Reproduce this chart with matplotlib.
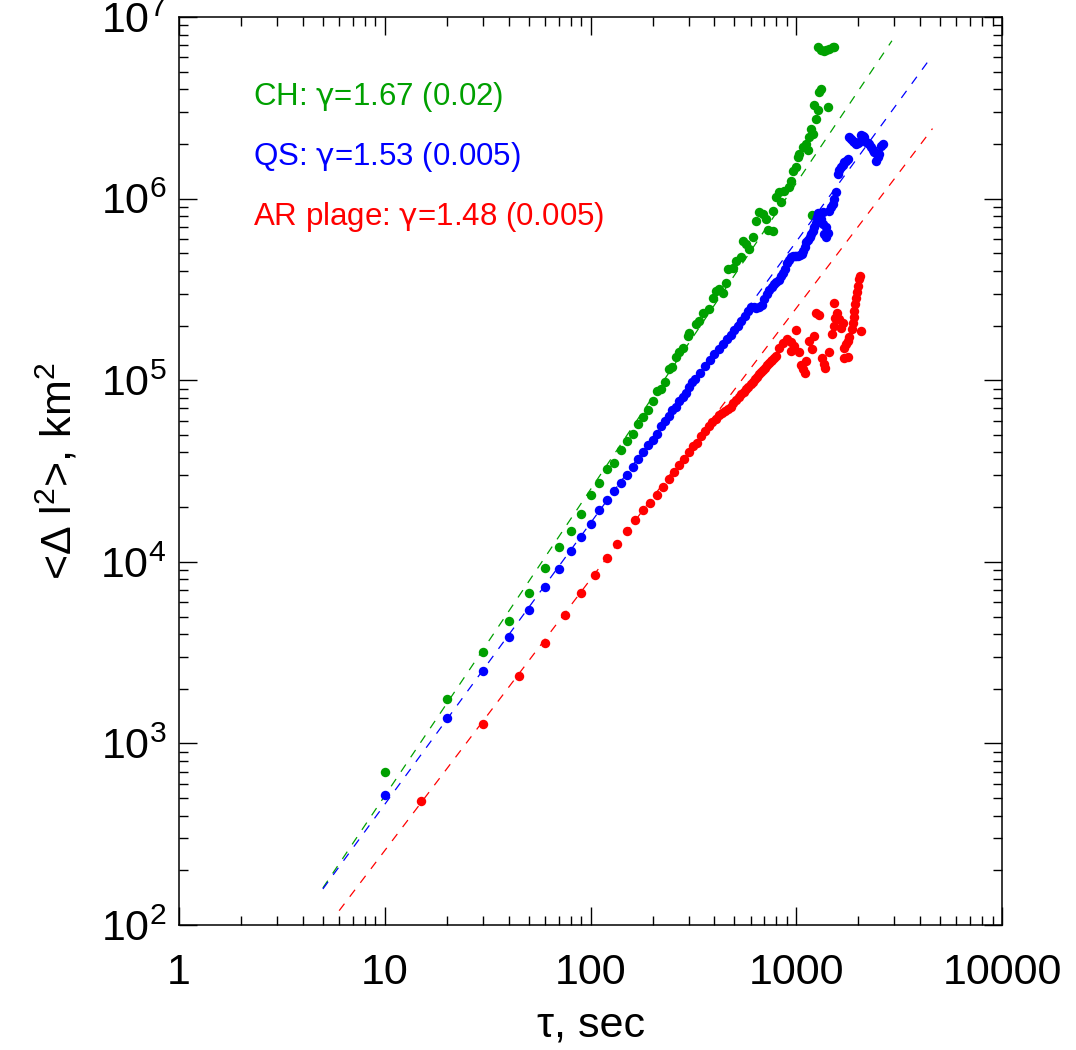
import matplotlib
matplotlib.use("Agg")
import matplotlib.pyplot as plt
from matplotlib.ticker import FixedLocator, LogLocator, NullFormatter

plt.rcParams["font.family"] = ["Liberation Sans", "DejaVu Sans"]
plt.rcParams["mathtext.fontset"] = "custom"
plt.rcParams["mathtext.rm"] = "Liberation Sans"
plt.rcParams["mathtext.sf"] = "DejaVu Sans"
plt.rcParams["mathtext.default"] = "regular"

# coronal hole (green), 10 s cadence
ch_tau = [10, 20, 30, 40, 50, 60, 70, 80, 90, 100, 110, 120, 130, 140, 150, 160, 170, 180,
          190, 200, 210, 220, 230, 240, 250, 260, 270, 280, 297, 302, 326, 338, 351, 378,
          392, 408, 423, 439, 456, 464, 491, 510, 539, 549, 570, 591, 614, 637, 661, 686,
          712, 726, 767, 767, 797, 827, 843, 875, 925, 943, 960, 996, 1015, 1035, 1074,
          1114, 1135, 1156, 1178, 1190, 1200, 1223, 1246, 1269, 1294, 1317, 1420,
          1269, 1317, 1360, 1394, 1446, 1501, 1529]
ch_msd = [700, 1750, 3180, 4720, 6740, 9270, 12050, 14800, 18370, 23200, 27100, 32400,
          35200, 41200, 46000, 50500, 57400, 62500, 68200, 77200, 87700, 90000, 97500,
          116000, 118000, 134600, 143000, 150500, 175000, 182500, 203000, 211800, 235500,
          245600, 285000, 310200, 317000, 303500, 345000, 408500, 417500, 454300, 474000,
          586000, 562000, 527500, 611400, 755600, 840000, 823000, 772000, 676000, 665500,
          858500, 1016000, 1084000, 954000, 1107000, 1154000, 1256000, 1428000, 1489000,
          1691000, 1766000, 1921000, 2004000, 1842000, 2183000, 2425000, 817000, 2277000,
          3264000, 2754000, 3063000, 3866000, 4033000, 3193000,
          6850000, 6580000, 6500000, 6600000, 6700000, 6800000, 6850000]

# quiet sun (blue), 10 s cadence
qs_tau = [10, 20, 30, 40, 50, 60, 70, 80, 90, 100, 110, 120, 130, 140, 150, 160, 170, 180,
          190, 200, 210, 220, 230, 240, 250, 260, 270, 280, 290, 300, 310,
          320, 340, 360, 380, 400, 420, 440, 460, 480, 500, 520, 540, 560, 580, 600, 620,
          640, 660, 680, 700, 720, 740, 760, 780, 800, 820, 840, 860, 880, 900, 920, 940,
          960, 980, 1000, 1020, 1040, 1060, 1080, 1100, 1120, 1140, 1160, 1180, 1200, 1220,
          1240, 1260, 1280, 1317, 1342, 1342, 1370, 1394, 1420, 1394, 1446, 1470, 1501,
          1529, 1558, 1587, 1620, 1648, 1680, 1710, 1740, 1775, 1809, 1844, 1877, 1910,
          1950, 1985, 2022, 2060, 2100, 2138, 2179, 2220, 2262, 2305, 2347, 2390, 2437,
          2483, 2529, 2577, 2626]
qs_msd = [522, 1375, 2500, 3880, 5460, 7310, 9120, 11450, 13700, 16200, 19300, 21900,
          24600, 27100, 30100, 33100, 36900, 40100, 44100, 47000, 50700, 56100, 59800,
          63700, 68200, 71100, 76500, 80500, 85100, 91500, 97500,
          102000, 110000, 120000, 129000, 138600, 148000, 157500, 168000, 178000, 189000,
          200000, 211000, 225000, 240000, 254000, 253000, 251000, 253000, 260000, 279000,
          298000, 312000, 326000, 337000, 347000, 358000, 373000, 388000, 410000, 442000,
          460000, 475000, 484000, 484000, 484000, 486000, 491000, 497000, 512000, 540000,
          575000, 595000, 615000, 640000, 665000, 700000, 735000, 790000, 830000, 772000,
          724600, 840000, 640000, 700000, 650000, 611400, 858500, 900000, 935000, 1000000,
          1084000, 1368000, 1430000, 1489000, 1540000, 1588000, 1620000, 1656000, 2183000,
          2136000, 2089000, 2050000, 2004000, 2030000, 2046000, 2230000, 2200000, 2183000,
          2046000, 2020000, 2004000, 1921000, 1842000, 1800000, 1620000, 1690000, 1766000,
          1960000, 2000000]

# active region plage (red), 15 s cadence
ar_tau = [15, 30, 45, 60, 75, 90, 105, 120, 135, 150, 165, 180, 195, 210, 225, 240, 255,
          270, 285, 300, 315, 330, 345, 360, 375, 390, 405, 420, 435, 450, 465, 480, 495,
          510, 525, 540, 555, 570, 585, 600, 615, 630, 645, 660, 675, 690, 705, 720, 735,
          750, 765, 780, 795,
          827, 865, 898, 943, 977, 943, 996, 1026, 1114, 1054, 1074, 1102, 1156, 1191,
          1223, 1246, 1294, 1333, 1358, 1378, 1435, 1490, 1529, 1529, 1546, 1577, 1617,
          1648, 1679, 1710, 1742, 1775, 1808, 1710, 1775, 1862, 1877, 1898, 1913, 1936,
          1950, 1972, 1994, 2022, 2037, 2060]
ar_msd = [484, 1274, 2345, 3560, 5080, 6700, 8500, 10500, 12600, 14800, 17100, 19300,
          21200, 23400, 25700, 28500, 31400, 34200, 36700, 40200, 43600, 45400, 49400,
          52200, 55700, 58600, 61100, 64600, 66000, 67500, 69200, 71500, 74800, 78000,
          81000, 83500, 86200, 89000, 91700, 95000, 98200, 101500, 104500, 107600, 111000,
          114000, 117500, 121000, 124000, 127000, 130000, 133000, 135500,
          151000, 160700, 168000, 163000, 154000, 144500, 188000, 143500, 127400, 121000,
          116000, 109700, 164000, 148000, 175000, 235500, 227500, 133000, 123000, 117000,
          143500, 180000, 199000, 267000, 221000, 235500, 216300, 193000, 206000, 151000,
          157500, 164000, 173000, 131800, 134000, 190500, 206000, 223000, 240000, 262000,
          285000, 307500, 330400, 360000, 375500, 186500]

# power-law fits, end points
ch_fit_tau = [5, 2915]
ch_fit_msd = [160, 7.4e6]
qs_fit_tau = [5, 4508]
qs_fit_msd = [158, 5.98e6]
ar_fit_tau = [6.0, 4590]
ar_fit_msd = [120, 2.43e6]

labels = [r"CH: $\mathsf{\gamma}$=1.67 (0.02)",
          r"QS: $\mathsf{\gamma}$=1.53 (0.005)",
          r"AR plage: $\mathsf{\gamma}$=1.48 (0.005)"]
colors = ["#00a000", "#0000ff", "#ff0000"]

fig = plt.figure(figsize=(10.76, 10.5), dpi=100)
ax = fig.add_axes([0.1664, 0.119, 0.7649, 0.8648])

series = [(ch_tau, ch_msd, ch_fit_tau, ch_fit_msd),
          (qs_tau, qs_msd, qs_fit_tau, qs_fit_msd),
          (ar_tau, ar_msd, ar_fit_tau, ar_fit_msd)]
for (t, m, ft, fm), c in zip(series, colors):
    ax.plot(ft, fm, color=c, lw=0.9, dashes=(7, 7))
    ax.plot(t, m, "o", color=c, ms=6.8, mew=0)

ax.set_xscale("log")
ax.set_yscale("log")
ax.set_xlim(1, 10000)
ax.set_ylim(100, 1e7)

ax.xaxis.set_major_locator(FixedLocator([1, 10, 100, 1000, 10000]))
ax.set_xticklabels(["1", "10", "100", "1000", "10000"])
ax.xaxis.set_minor_locator(LogLocator(base=10, subs=range(2, 10)))
ax.xaxis.set_minor_formatter(NullFormatter())
ax.yaxis.set_minor_locator(LogLocator(base=10, subs=range(2, 10)))
ax.yaxis.set_minor_formatter(NullFormatter())

ax.tick_params(which="both", direction="in", top=True, right=True, width=1.0)
ax.tick_params(which="major", length=13, labelsize=31)
ax.tick_params(axis="x", which="major", pad=20)
ax.tick_params(axis="y", which="major", pad=9)
ax.tick_params(which="minor", length=6.5)
for s in ax.spines.values():
    s.set_linewidth(1.1)

ax.set_xlabel("τ, sec", fontsize=31, labelpad=9)
ax.set_ylabel("<Δ l$^2$>, km$^2$", fontsize=31, labelpad=14)

for i, (lab, c) in enumerate(zip(labels, colors)):
    ax.text(0.09, 0.912 - 0.066 * i, lab, color=c, fontsize=22.5,
            transform=ax.transAxes, va="center", ha="left")

fig.savefig("out.png", dpi=100)
